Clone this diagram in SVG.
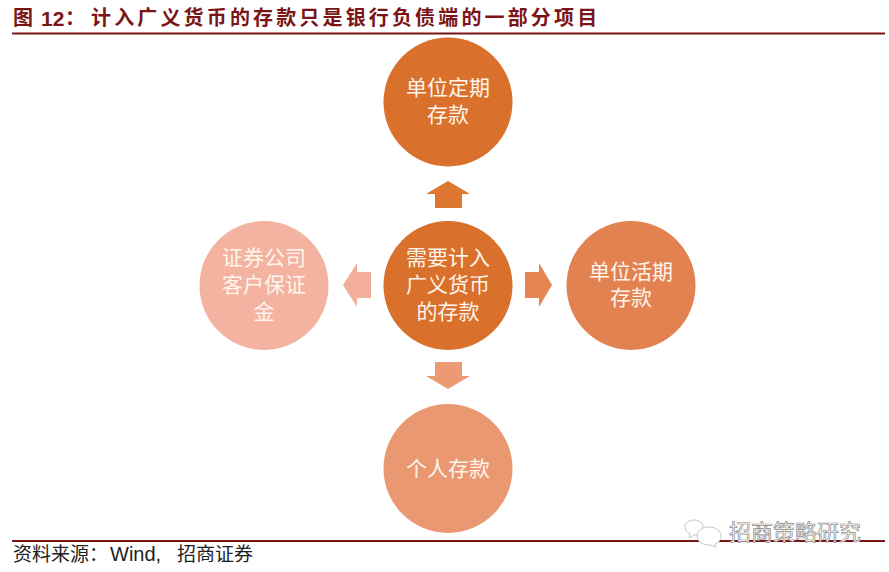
<svg xmlns="http://www.w3.org/2000/svg" width="889" height="572" viewBox="0 0 889 572">
<style>
text{font-family:"Noto Sans CJK SC","Liberation Sans",sans-serif}
.t{fill:#7b1416;font-size:20px;font-weight:700}
.n{fill:#fff5ec;font-size:21px;text-anchor:middle}
.r{stroke:#7b1416;stroke-width:2;fill:none}
.s{fill:#222;font-size:19px}
.w{fill:#fff;stroke:#8a8a8a;stroke-width:.7;font-size:22px}
.i{fill:#fff;stroke:#c4c4c4;stroke-width:1}
</style>
<rect width="889" height="572" fill="#fff"/>
<g id="title">
<text class="t" x="13" y="25">图</text>
<text class="t" x="41" y="26" style="font-family:'Liberation Sans',sans-serif;font-size:21px">12</text>
<text class="t" x="65" y="25">：</text>
<text class="t" x="91" y="25" letter-spacing="3.150">计入广义货币的存款只是银行负债端的一部分项目</text>
<line class="r" x1="12" y1="33.500" x2="885" y2="33.500"/>
</g>
<g id="connectors">
<path fill="#dd762f" d="M448 181L470 194H462V208H435V194H426Z"/>
<path fill="#e5854f" d="M525 272H539V263L552 285L539 307V298H525Z"/>
<path fill="#ec9a73" d="M435 362H462V376H470L448 389L426 376H435Z"/>
<path fill="#f2ae98" d="M371 272H357V263L343 285L357 307V298H371Z"/>
</g>
<g id="node-top"><circle cx="448" cy="102" r="64.500" fill="#d9702b"/><text class="n"><tspan x="448" y="95">单位定期</tspan><tspan x="448" y="122">存款</tspan></text></g>
<g id="node-center"><circle cx="448" cy="285.500" r="64.500" fill="#d9702b"/><text class="n"><tspan x="448" y="265">需要计入</tspan><tspan x="448" y="292">广义货币</tspan><tspan x="448" y="319">的存款</tspan></text></g>
<g id="node-right"><circle cx="631" cy="285.500" r="64.500" fill="#e28251"/><text class="n"><tspan x="631" y="279">单位活期</tspan><tspan x="631" y="305">存款</tspan></text></g>
<g id="node-bottom"><circle cx="448" cy="468.500" r="64.500" fill="#ea9872"/><text class="n" x="448" y="476">个人存款</text></g>
<g id="node-left"><circle cx="264" cy="285.500" r="64.500" fill="#f3b3a0"/><text class="n"><tspan x="264" y="265">证券公司</tspan><tspan x="264" y="292">客户保证</tspan><tspan x="264" y="319">金</tspan></text></g>
<g id="footer">
<line class="r" x1="12" y1="541" x2="885" y2="541"/>
<text class="s" x="13" y="561">资料来源：</text>
<text class="s" x="110" y="561" style="font-family:'Liberation Sans',sans-serif;font-size:20px">Wind,</text>
<text class="s" x="177" y="561">招商证券</text>
</g>
<g id="watermark">
<path class="i" d="M694 520c6 0 9 3 9 7s-3 8-9 8l-5 3 1-4c-3-2-5-4-5-7 0-4 4-7 9-7Z"/>
<path class="i" d="M709 527c7 0 12 4 12 9 0 4-3 7-6 8l1 3-5-2c-8 1-14-4-14-9s5-9 12-9Z"/>
<text class="w" x="729" y="540">招商策略研究</text>
</g>
</svg>
